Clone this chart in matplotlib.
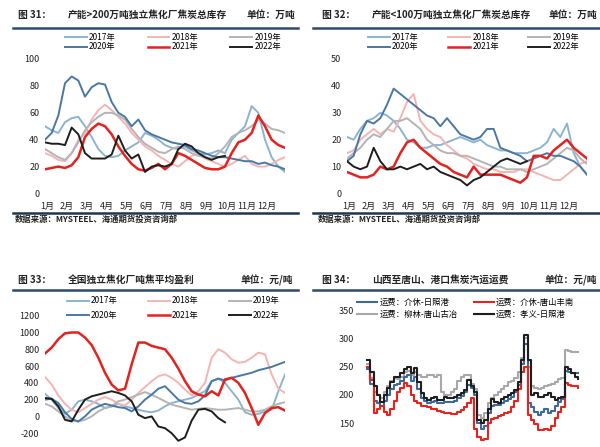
import numpy as np
import matplotlib.pyplot as plt
from matplotlib.lines import Line2D

plt.rcParams['font.family'] = ['Noto Sans CJK SC', 'DejaVu Sans']
plt.rcParams['axes.unicode_minus'] = False

W, H = 600, 447

# x: months from Jan 1, one point every 1/3 month
m = np.arange(37) / 3
m22 = m[:28]
month_labels = [f'{i}月' for i in range(1, 13)]
years = ['2017年', '2018年', '2019年', '2020年', '2021年', '2022年']
year_colors = ['#8cb4d0', '#f5b4b4', '#b4b4b4', '#4a78a6', '#e2231f', '#1e1e1e']

# 图31 产能>200万吨 焦炭总库存 (万吨)
big_2017 = [50, 47, 45, 53, 56, 57, 50, 42, 33, 28, 27, 28, 32, 35, 38, 45, 43, 40, 36, 34, 33, 35, 32, 30,
            29, 30, 32, 30, 40, 45, 50, 65, 60, 40, 27, 20, 16]
big_2018 = [30, 28, 25, 24, 30, 40, 45, 55, 62, 66, 62, 57, 52, 45, 40, 35, 32, 28, 25, 22, 20, 24, 28, 30,
            26, 24, 22, 20, 22, 25, 28, 22, 20, 20, 22, 25, 27]
big_2019 = [33, 30, 27, 25, 30, 38, 47, 53, 57, 60, 60, 58, 55, 48, 42, 37, 34, 31, 30, 33, 35, 33, 30, 28,
            27, 26, 30, 35, 42, 45, 47, 50, 55, 52, 48, 47, 45]
big_2020 = [40, 45, 58, 82, 87, 84, 72, 79, 82, 81, 68, 60, 57, 50, 55, 47, 44, 42, 40, 38, 37, 36, 33, 32,
            30, 28, 27, 27, 26, 25, 24, 24, 22, 23, 21, 20, 18]
big_2021 = [18, 19, 20, 19, 21, 27, 42, 48, 52, 50, 44, 35, 28, 22, 18, 17, 19, 22, 18, 22, 30, 28, 25, 22,
            19, 18, 18, 20, 30, 38, 40, 45, 58, 50, 40, 36, 34]
big_2022 = [38, 37, 37, 36, 49, 44, 30, 26, 26, 26, 29, 43, 32, 26, 29, 16, 20, 21, 20, 22, 33, 37, 35, 30,
            27, 25, 27, 28]

# 图32 产能<100万吨 焦炭总库存 (万吨)
small_2017 = [21, 20, 24, 27, 28, 30, 29, 27, 24, 20, 19, 17, 17, 18, 18, 19, 20, 21, 20, 19, 20, 18, 17, 16,
              16, 15, 15, 15, 16, 17, 19, 24, 21, 26, 15, 10, 7]
small_2018 = [15, 16, 20, 22, 24, 22, 24, 23, 28, 34, 37, 27, 24, 22, 21, 18, 16, 14, 13, 11, 10, 9, 9, 8,
              8, 8, 9, 9, 8, 7, 6, 5, 5, 7, 9, 11, 12]
small_2019 = [13, 15, 17, 20, 22, 21, 24, 27, 27, 28, 26, 24, 20, 18, 16, 15, 15, 14, 14, 13, 12, 11, 10, 10,
              9, 9, 9, 8, 9, 10, 11, 13, 15, 17, 16, 13, 11]
small_2020 = [12, 14, 22, 27, 26, 28, 33, 39, 37, 35, 33, 31, 29, 28, 25, 28, 25, 22, 21, 20, 21, 24, 24, 17,
              16, 15, 14, 12, 13, 14, 15, 14, 14, 13, 12, 10, 7]
small_2021 = [8, 7, 6, 6, 7, 10, 9, 10, 15, 19, 20, 17, 15, 13, 11, 10, 8, 7, 6, 10, 7, 7, 7, 7,
              6, 5, 4, 6, 14, 14, 13, 16, 18, 20, 17, 15, 13]
small_2022 = [12, 10, 9, 10, 17, 12, 9, 9, 10, 9, 10, 11, 9, 10, 8, 7, 6, 5, 3, 5, 6, 8, 10, 12,
              13, 12, 11, 12]

# 图33 吨焦平均盈利 (元/吨)
profit_2017 = [270, 200, 100, 30, 80, 180, 200, 180, 150, 100, 120, 150, 120, 100, 80, 60, 50, 70, 120, 160,
               180, 200, 220, 260, 300, 420, 450, 400, 300, 200, 50, 20, 30, 60, 80, 300, 500]
profit_2018 = [470, 380, 250, 150, 80, 50, 100, 150, 200, 230, 200, 150, 130, 200, 280, 350, 420, 480, 500, 460,
               400, 320, 250, 300, 400, 700, 800, 760, 680, 640, 650, 700, 760, 740, 500, 330, 280]
profit_2019 = [150, 120, 60, 0, -50, -60, -40, 0, 60, 100, 120, 180, 200, 230, 260, 290, 260, 220, 180, 140,
               120, 100, 80, 90, 100, 90, 80, 80, 90, 100, 80, 60, 60, 80, 120, 150, 170]
profit_2020 = [200, 210, 160, 50, -30, -60, 0, 80, 120, 150, 130, 110, 100, 60, 120, 200, 260, 330, 360, 280,
               200, 160, 150, 180, 250, 420, 450, 430, 460, 480, 500, 520, 550, 570, 590, 620, 650]
profit_2021 = [750, 820, 920, 990, 1000, 1000, 940, 850, 700, 520, 380, 310, 330, 620, 880, 880, 840, 820, 800, 700,
               570, 420, 300, 260, 240, 300, 250, 440, 460, 400, 280, 100, -100, 40, 100, 110, 70]
profit_2022 = [220, 210, 120, -40, -60, 80, 200, 240, 260, 280, 300, 280, 250, 180, 20, -20, 0, -120, -140, -200,
               -290, -250, -50, 80, 90, 60, -20, -70]

# 图34 汽运运费 (元/吨), weekly steps
freight_labels = ['运费：介休-日照港', '运费：柳林-唐山古冶', '运费：介休-唐山丰南', '运费：孝义-日照港']
jiexiu_rizhao = [245, 220, 190, 185, 180, 190, 200, 210, 218, 220, 225, 232, 235, 225, 232, 210, 195, 190, 186, 188,
                 190, 185, 185, 188, 187, 188, 190, 195, 198, 205, 218, 212, 200, 150, 140, 145, 168, 180, 182, 183,
                 185, 190, 192, 196, 205, 218, 255, 290, 185, 178, 170, 165, 170, 175, 168, 172, 180, 188, 192, 242,
                 240, 238, 238, 238]
liulin_tangshan = [255, 230, 205, 200, 195, 205, 215, 225, 230, 228, 232, 240, 242, 235, 240, 235, 232, 232, 235, 235,
                   232, 235, 205, 200, 200, 205, 210, 225, 232, 235, 235, 220, 210, 165, 160, 168, 185, 195, 200, 205,
                   210, 215, 222, 225, 230, 240, 265, 300, 250, 215, 212, 210, 212, 215, 218, 220, 222, 228, 230, 280,
                   278, 275, 275, 275]
jiexiu_tangshan = [250, 226, 168, 175, 180, 170, 164, 175, 190, 205, 212, 221, 215, 200, 190, 185, 180, 180, 178, 175,
                   175, 172, 170, 168, 168, 166, 166, 170, 173, 178, 185, 195, 140, 126, 120, 122, 150, 158, 160, 162,
                   165, 168, 170, 178, 190, 210, 240, 250, 165, 155, 148, 138, 138, 140, 138, 145, 160, 170, 178, 221,
                   218, 215, 215, 212]
xiaoyi_rizhao = [262, 240, 215, 200, 188, 200, 212, 222, 232, 232, 238, 245, 250, 238, 248, 222, 203, 195, 191, 195,
                 197, 191, 191, 197, 194, 194, 197, 200, 203, 209, 226, 215, 205, 156, 150, 155, 175, 192, 188, 185,
                 192, 197, 200, 203, 209, 222, 262, 305, 262, 200, 203, 197, 197, 200, 203, 197, 191, 195, 197, 250,
                 245, 238, 232, 228]
freight_colors = ['#3d6a9a', '#a8a8a8', '#e8231c', '#1e1e1e']

fig = plt.figure(figsize=(6, 4.47), dpi=100)


def px_axes(left, top, right, bottom):
    return fig.add_axes([left / W, 1 - bottom / H, (right - left) / W, (bottom - top) / H])


def hline(x0, x1, y, color='#2f4b6b', lw=1.8):
    fig.add_artist(Line2D([x0 / W, x1 / W], [1 - y / H] * 2, color=color, lw=lw))


def title(x_no, x_txt, x_unit, y, no, txt, unit):
    kw = dict(fontsize=7, fontweight='bold', color='#222222', va='center')
    fig.text(x_no / W, 1 - y / H, no, **kw)
    fig.text(x_txt / W, 1 - y / H, txt, **kw)
    fig.text(x_unit / W, 1 - y / H, unit, ha='right', **kw)


def style(ax, yticks, months=True):
    for s in ax.spines.values():
        s.set_visible(False)
    ax.set_yticks(yticks)
    if months:
        ax.set_xticks(np.arange(12) + 0.1)
        ax.set_xticklabels(month_labels)
    else:
        ax.set_xticks([])
    ax.tick_params(length=0, labelsize=6.5, colors='#222222')
    ax.tick_params(axis='y', pad=4)
    ax.tick_params(axis='x', pad=6)
    ax.patch.set_alpha(0)


def year_lines(ax, series):
    handles = []
    for i, (ys, lab, col) in enumerate(zip(series, years, year_colors)):
        xs = m22 if i == 5 else m
        lw = 1.8 if i == 4 else 1.4
        h, = ax.plot(xs, ys, color=col, lw=lw, label=lab)
        handles.append(h)
    return handles


def year_legend(ax, handles, x, y, spacing, colsp):
    order = [0, 3, 1, 4, 2, 5]
    ax.legend([handles[i] for i in order], [years[i] for i in order], ncol=3, loc='upper left',
              bbox_to_anchor=(x / W, 1 - y / H), bbox_transform=fig.transFigure, frameon=False,
              fontsize=6, handlelength=2.6, handletextpad=0.3, columnspacing=colsp,
              borderpad=0, borderaxespad=0, labelspacing=spacing)


# ---- 图31
ax1 = px_axes(45, 59, 285, 193.5)
hs = year_lines(ax1, [big_2017, big_2018, big_2019, big_2020, big_2021, big_2022])
ax1.set_xlim(0, 12)
ax1.set_ylim(0, 100)
style(ax1, [0, 20, 40, 60, 80, 100])
year_legend(ax1, hs, 65, 33, 0.05, 3.8)
title(18, 68, 295, 15, '图 31：', '产能>200万吨独立焦化厂焦炭总库存', '单位：万吨')
hline(13, 298, 28)
hline(13, 298, 213, color='#1f3550')
fig.text(15 / W, 1 - 219 / H, '数据来源：MYSTEEL、海通期货投资咨询部', fontsize=6, fontweight='bold',
         color='#222222', va='center')

# ---- 图32
ax2 = px_axes(347, 59, 587, 193.5)
hs = year_lines(ax2, [small_2017, small_2018, small_2019, small_2020, small_2021, small_2022])
ax2.set_xlim(0, 12)
ax2.set_ylim(0, 50)
style(ax2, [0, 10, 20, 30, 40, 50])
year_legend(ax2, hs, 368, 33, 0.05, 3.5)
title(322, 372, 597, 15, '图 32：', '产能<100万吨独立焦化厂焦炭总库存', '单位：万吨')
hline(313, 600, 28)
hline(313, 600, 213, color='#1f3550')
fig.text(318 / W, 1 - 219 / H, '数据来源：MYSTEEL、海通期货投资咨询部', fontsize=6, fontweight='bold',
         color='#222222', va='center')

# ---- 图33 (lower part is cut off by the page edge)
ax3 = px_axes(45, 315.7, 285, 450)
hs = year_lines(ax3, [profit_2017, profit_2018, profit_2019, profit_2020, profit_2021, profit_2022])
ax3.set_xlim(0, 12)
ax3.set_ylim(-400, 1200)
style(ax3, np.arange(-200, 1201, 200), months=False)
year_legend(ax3, hs, 67, 296.5, 0.65, 3.6)
title(18, 68, 293, 280, '图 33：', '全国独立焦化厂吨焦平均盈利', '单位：元/吨')
hline(13, 298, 290)

# ---- 图34
ax4 = px_axes(360, 310, 590, 451.6)
wk = np.arange(len(xiaoyi_rizhao))
fh = []
for ys, lab, col in zip([liulin_tangshan, jiexiu_rizhao, jiexiu_tangshan, xiaoyi_rizhao],
                        [freight_labels[1], freight_labels[0], freight_labels[2], freight_labels[3]],
                        [freight_colors[1], freight_colors[0], freight_colors[2], freight_colors[3]]):
    h, = ax4.plot(wk, ys, color=col, lw=1.5, drawstyle='steps-post', label=lab)
    fh.append(h)
ax4.set_xlim(-2.09, 66.6)
ax4.set_ylim(100, 350)
style(ax4, [150, 200, 250, 300, 350], months=False)
ax4.legend([fh[1], fh[0], fh[2], fh[3]], freight_labels, ncol=2, loc='upper left',
           bbox_to_anchor=(357 / W, 1 - 297.5 / H), bbox_transform=fig.transFigure, frameon=False,
           fontsize=6, handlelength=2.4, handletextpad=0.3, columnspacing=1.9,
           borderpad=0, borderaxespad=0, labelspacing=0.4)
title(322, 372, 597, 280, '图 34：', '山西至唐山、港口焦炭汽运运费', '单位：元/吨')
hline(313, 600, 290)

fig.savefig('out.png', dpi=100)
